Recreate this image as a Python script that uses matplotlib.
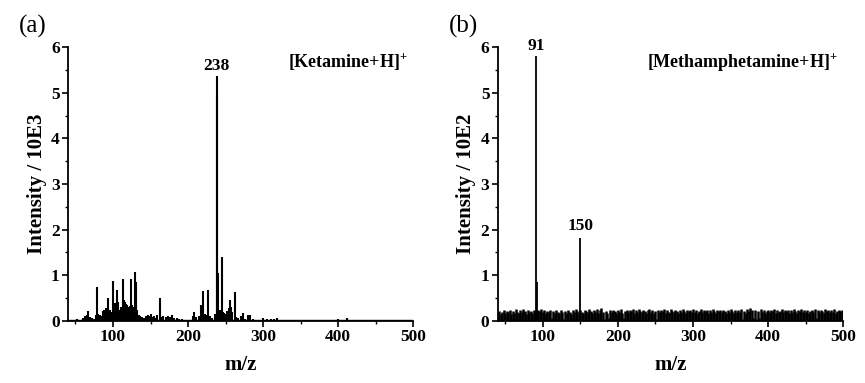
import matplotlib
matplotlib.use('Agg')
import matplotlib.pyplot as plt
import numpy as np

plt.rcParams['font.family'] = ['Liberation Serif', 'DejaVu Serif']
plt.rcParams['font.weight'] = 'bold'
plt.rcParams['mathtext.fontset'] = 'custom'
plt.rcParams['mathtext.rm'] = 'Liberation Serif:bold'
plt.rcParams['mathtext.bf'] = 'Liberation Serif:bold'

# ---- (a) ketamine: stick peaks (m/z, intensity / 10E3)
ket_mz = [52, 56, 60, 63, 65, 67, 69, 72, 75, 77, 79, 80, 82, 84, 86, 88, 89, 91, 93, 94,
          96, 98, 100, 101, 103, 105, 106, 107, 109, 111, 113, 114, 115, 116, 117, 119, 120,
          121, 122, 124, 125, 127, 129, 130, 131, 132, 134, 136, 139, 141, 144, 146, 148,
          150, 152, 155, 157, 159, 162, 164, 167, 170, 173, 176, 178, 181, 185, 188, 192,
          196, 206, 208, 210, 215, 217, 219, 220, 222, 225, 227, 229, 232, 236, 238, 239,
          240, 243, 245, 246, 248, 250, 252, 254, 256, 257, 259, 262, 264, 267, 270, 273,
          276, 280, 283, 287, 292, 300, 305, 310, 315, 318, 325, 340, 360, 380, 400, 405,
          412, 430, 450, 470, 490]
ket_int = [0.04, 0.03, 0.06, 0.10, 0.14, 0.22, 0.08, 0.06, 0.05, 0.12, 0.75, 0.15, 0.14,
           0.10, 0.22, 0.25, 0.18, 0.28, 0.51, 0.22, 0.25, 0.20, 0.88, 0.25, 0.40, 0.68,
           0.30, 0.42, 0.25, 0.30, 0.93, 0.35, 0.45, 0.42, 0.38, 0.36, 0.25, 0.30, 0.33,
           0.93, 0.35, 0.30, 1.08, 0.40, 0.86, 0.25, 0.12, 0.10, 0.08, 0.06, 0.10, 0.13,
           0.10, 0.15, 0.08, 0.10, 0.06, 0.12, 0.51, 0.08, 0.10, 0.08, 0.10, 0.08, 0.13,
           0.07, 0.06, 0.05, 0.04, 0.03, 0.10, 0.20, 0.08, 0.10, 0.35, 0.30, 0.66, 0.15,
           0.12, 0.68, 0.10, 0.06, 0.15, 5.36, 4.96, 1.05, 0.25, 1.41, 0.20, 0.18, 0.15,
           0.22, 0.28, 0.45, 0.30, 0.20, 0.63, 0.08, 0.06, 0.10, 0.17, 0.05, 0.12, 0.12,
           0.04, 0.03, 0.07, 0.04, 0.05, 0.04, 0.07, 0.03, 0.02, 0.02, 0.02, 0.05, 0.03,
           0.06, 0.02, 0.02, 0.02, 0.02]

# ---- (b) methamphetamine: peaks + noise floor (intensity / 10E2)
meth_mz = [91, 92, 150]
meth_int = [5.80, 0.85, 1.82]
meth_noise = [
    0.18, 0.22, 0.15, 0.20, 0.24, 0.17, 0.21, 0.19, 0.25, 0.16,
    0.22, 0.18, 0.26, 0.20, 0.17, 0.23, 0.19, 0.27, 0.21, 0.16,
    0.24, 0.19, 0.22, 0.17, 0.25, 0.20, 0.18, 0.23, 0.21, 0.26,
    0.19, 0.23, 0.17, 0.22, 0.20, 0.24, 0.06, 0.21, 0.18, 0.25,
    0.20, 0.17, 0.23, 0.19, 0.05, 0.22, 0.18, 0.24, 0.20, 0.16,
    0.23, 0.19, 0.26, 0.21, 0.18, 0.24, 0.20, 0.17, 0.25, 0.22,
    0.19, 0.27, 0.21, 0.18, 0.24, 0.20, 0.26, 0.17, 0.23, 0.28,
    0.20, 0.04, 0.22, 0.18, 0.07, 0.25, 0.19, 0.23, 0.21, 0.17,
    0.24, 0.20, 0.26, 0.18, 0.06, 0.22, 0.25, 0.19, 0.23, 0.21,
    0.27, 0.18, 0.24, 0.20, 0.26, 0.22, 0.19, 0.25, 0.21, 0.17,
    0.23, 0.26, 0.20, 0.24, 0.18, 0.22, 0.05, 0.25, 0.19, 0.23,
    0.21, 0.26, 0.18, 0.24, 0.20, 0.27, 0.22, 0.19, 0.25, 0.21,
    0.18, 0.24, 0.20, 0.26, 0.22, 0.17, 0.25, 0.21, 0.23, 0.19,
    0.26, 0.20, 0.24, 0.18, 0.22, 0.27, 0.19, 0.23, 0.21, 0.25,
    0.17, 0.24, 0.20, 0.26, 0.22, 0.18, 0.25, 0.21, 0.23, 0.19,
    0.25, 0.21, 0.18, 0.24, 0.20, 0.26, 0.22, 0.17, 0.23, 0.19,
    0.24, 0.20, 0.27, 0.05, 0.22, 0.18, 0.26, 0.21, 0.28, 0.23,
    0.06, 0.25, 0.04, 0.22, 0.07, 0.26, 0.20, 0.24, 0.18, 0.22,
    0.25, 0.19, 0.23, 0.21, 0.26, 0.18, 0.24, 0.20, 0.22, 0.27,
    0.19, 0.23, 0.21, 0.25, 0.17, 0.24, 0.20, 0.26, 0.22, 0.18,
    0.24, 0.21, 0.26, 0.19, 0.23, 0.20, 0.25, 0.17, 0.22, 0.24,
    0.20, 0.26, 0.06, 0.23, 0.19, 0.25, 0.21, 0.18, 0.27, 0.22,
    0.24, 0.19, 0.23, 0.20, 0.26, 0.18, 0.22, 0.25, 0.21, 0.24,
]
noise_mz = np.arange(40, 40 + 2 * len(meth_noise), 2)

fig = plt.figure(figsize=(8.65, 3.83), dpi=100)
ax1 = fig.add_axes([0.0786, 0.162, 0.399, 0.715])
ax2 = fig.add_axes([0.5754, 0.162, 0.3995, 0.715])


def style(ax, ylabel):
    ax.set_xlim(40, 500)
    ax.set_ylim(0, 6)
    for s in ['top', 'right']:
        ax.spines[s].set_visible(False)
    for s in ['left', 'bottom']:
        ax.spines[s].set_linewidth(1.3)
    ax.set_xticks([100, 200, 300, 400, 500])
    ax.set_xticks([50, 150, 250, 350, 450], minor=True)
    ax.set_yticks(range(7))
    ax.set_yticks(np.arange(0.5, 6, 1), minor=True)
    ax.tick_params(which='major', direction='out', length=4, width=1.2, labelsize=12.5, pad=2)
    ax.tick_params(which='minor', direction='out', length=2.5, width=1.0)
    for lab in ax.get_xticklabels() + ax.get_yticklabels():
        lab.set_fontweight('bold')
    ax.set_xlabel('m/z', fontsize=15, fontweight='bold', labelpad=7)
    ax.set_ylabel(ylabel, fontsize=15, fontweight='bold', labelpad=3)


# panel (a)
ax1.plot([40, 500], [0.015, 0.015], color='black', lw=1.0)
ax1.vlines(ket_mz, 0, ket_int, color='black', lw=1.5)
style(ax1, 'Intensity / 10E3')
ax1.text(238, 5.42, '238', ha='center', va='bottom', fontsize=12.5, fontweight='bold')
ax1.text(0.985, 0.945, r'[Ketamine+H]$^{+}$', transform=ax1.transAxes, ha='right',
         va='center', fontsize=13, fontweight='bold')
fig.text(0.022, 0.915, '(a)', fontsize=18, fontweight='normal')

# panel (b)
ax2.vlines(noise_mz, 0, meth_noise, color='black', lw=1.8)
ax2.vlines(meth_mz, 0, meth_int, color='black', lw=1.3)
style(ax2, 'Intensity / 10E2')
ax2.text(91, 5.85, '91', ha='center', va='bottom', fontsize=12.5, fontweight='bold')
ax2.text(150, 1.9, '150', ha='center', va='bottom', fontsize=12.5, fontweight='bold')
ax2.text(0.985, 0.945, r'[Methamphetamine+H]$^{+}$', transform=ax2.transAxes, ha='right',
         va='center', fontsize=13, fontweight='bold')
fig.text(0.519, 0.915, '(b)', fontsize=18, fontweight='normal')

fig.savefig('out.png', dpi=100)
